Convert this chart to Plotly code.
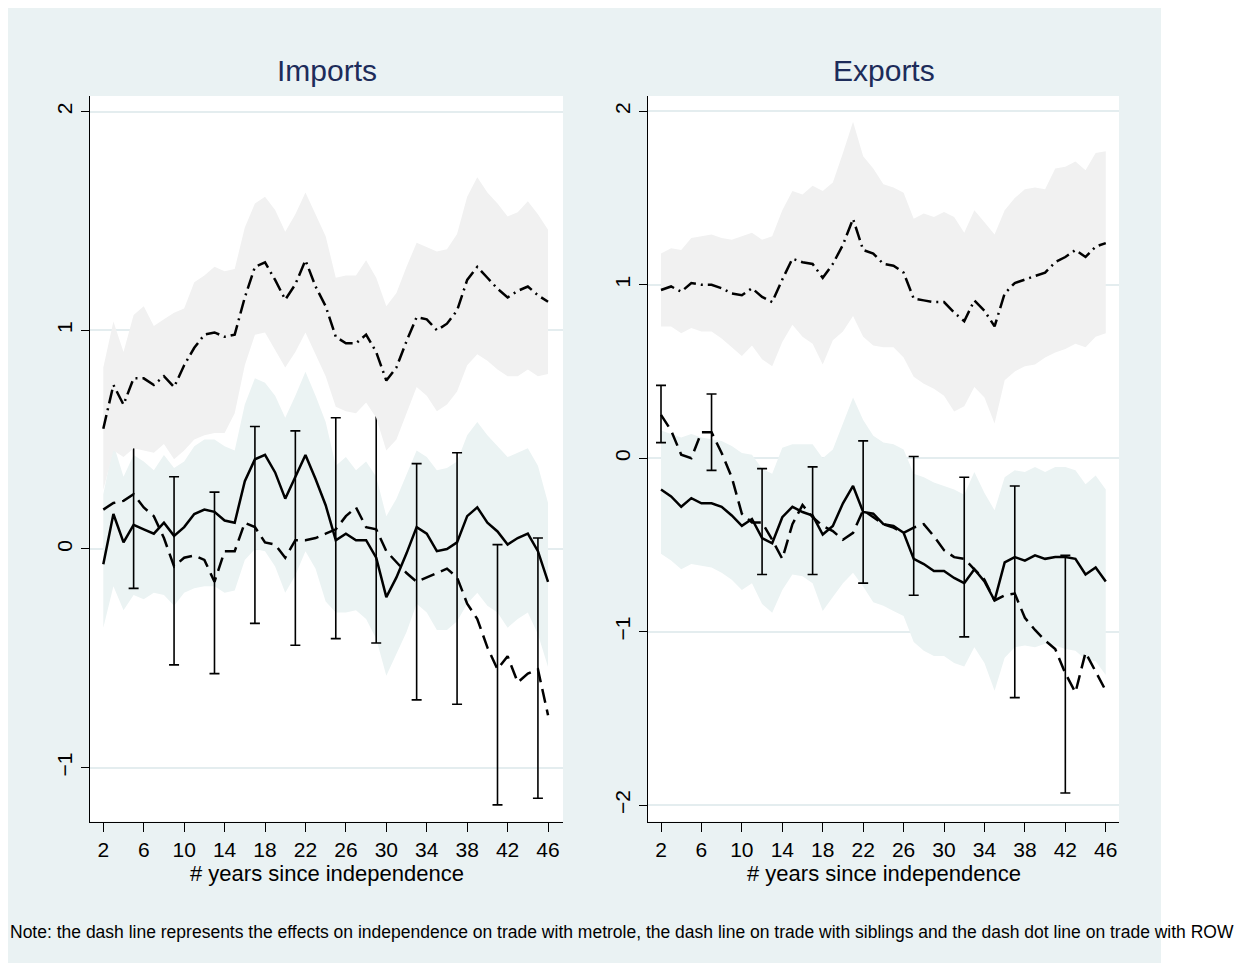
import plotly.graph_objects as go

years = list(range(2, 47))
x_ticks = [2, 6, 10, 14, 18, 22, 26, 30, 34, 38, 42, 46]

# ---------------- Imports panel ----------------
imp_row = [0.55, 0.75, 0.66, 0.78, 0.78, 0.75, 0.79, 0.74, 0.84, 0.92,
           0.98, 0.99, 0.97, 0.98, 1.15, 1.29, 1.31, 1.23, 1.14, 1.21,
           1.32, 1.20, 1.11, 0.97, 0.94, 0.94, 0.98, 0.90, 0.77, 0.83,
           0.95, 1.06, 1.05, 1.00, 1.03, 1.09, 1.23, 1.29, 1.24, 1.19,
           1.15, 1.18, 1.20, 1.16, 1.13]
imp_row_hi = [0.83, 1.04, 0.90, 1.07, 1.11, 1.02, 1.05, 1.08, 1.10, 1.22,
              1.25, 1.29, 1.27, 1.28, 1.47, 1.58, 1.61, 1.55, 1.45, 1.53,
              1.63, 1.53, 1.43, 1.24, 1.25, 1.25, 1.32, 1.24, 1.11, 1.17,
              1.29, 1.40, 1.38, 1.36, 1.37, 1.44, 1.61, 1.70, 1.63, 1.58,
              1.52, 1.54, 1.59, 1.53, 1.46]
imp_row_lo = [0.27, 0.45, 0.42, 0.46, 0.45, 0.44, 0.48, 0.41, 0.45, 0.50,
              0.52, 0.53, 0.53, 0.62, 0.84, 0.98, 0.99, 0.91, 0.83, 0.90,
              0.99, 0.89, 0.79, 0.65, 0.63, 0.62, 0.67, 0.60, 0.45, 0.50,
              0.62, 0.74, 0.70, 0.63, 0.66, 0.72, 0.84, 0.89, 0.86, 0.82,
              0.79, 0.79, 0.82, 0.79, 0.80]
imp_metro = [-0.07, 0.16, 0.03, 0.11, 0.09, 0.07, 0.12, 0.06, 0.10, 0.16,
             0.18, 0.17, 0.13, 0.12, 0.31, 0.41, 0.43, 0.35, 0.23, 0.33,
             0.43, 0.32, 0.20, 0.04, 0.07, 0.04, 0.04, -0.04, -0.22, -0.13,
             -0.02, 0.10, 0.07, -0.01, 0.00, 0.03, 0.15, 0.19, 0.12, 0.08,
             0.02, 0.05, 0.07, -0.01, -0.15]
imp_metro_hi = [0.25, 0.48, 0.33, 0.43, 0.40, 0.36, 0.43, 0.37, 0.40, 0.47,
                0.50, 0.50, 0.47, 0.45, 0.66, 0.78, 0.76, 0.70, 0.60, 0.70,
                0.81, 0.70, 0.58, 0.38, 0.42, 0.36, 0.40, 0.33, 0.15, 0.23,
                0.34, 0.45, 0.42, 0.36, 0.37, 0.40, 0.52, 0.58, 0.52, 0.47,
                0.42, 0.44, 0.46, 0.38, 0.21]
imp_metro_lo = [-0.36, -0.17, -0.28, -0.21, -0.23, -0.20, -0.21, -0.26, -0.20, -0.18,
                -0.17, -0.17, -0.20, -0.19, -0.05, 0.00, -0.01, -0.08, -0.20, -0.12,
                -0.01, -0.09, -0.24, -0.29, -0.29, -0.28, -0.32, -0.41, -0.58, -0.48,
                -0.38, -0.25, -0.29, -0.37, -0.37, -0.33, -0.25, -0.20, -0.26, -0.29,
                -0.36, -0.32, -0.29, -0.39, -0.54]
imp_sib = [0.18, 0.21, 0.22, 0.25, 0.19, 0.15, 0.05, -0.08, -0.04, -0.03,
           -0.05, -0.15, -0.01, -0.01, 0.12, 0.10, 0.03, 0.02, -0.04, 0.04,
           0.04, 0.05, 0.07, 0.09, 0.15, 0.19, 0.10, 0.09, -0.01, -0.06,
           -0.11, -0.15, -0.13, -0.11, -0.09, -0.13, -0.25, -0.32, -0.45, -0.55,
           -0.49, -0.61, -0.57, -0.55, -0.76]
imp_bar_x = [5, 9, 13, 17, 21, 25, 29, 33, 37, 41, 45]
imp_bar_hi = [0.67, 0.33, 0.26, 0.56, 0.54, 0.60, 0.66, 0.39, 0.44, 0.02, 0.05]
imp_bar_lo = [-0.18, -0.53, -0.57, -0.34, -0.44, -0.41, -0.43, -0.69, -0.71, -1.17, -1.14]

# ---------------- Exports panel ----------------
exp_row = [0.97, 0.99, 0.96, 1.01, 1.00, 1.00, 0.98, 0.95, 0.94, 0.98,
           0.93, 0.90, 1.03, 1.15, 1.13, 1.12, 1.04, 1.12, 1.23, 1.38,
           1.20, 1.18, 1.12, 1.11, 1.07, 0.92, 0.91, 0.90, 0.90, 0.84,
           0.79, 0.91, 0.85, 0.76, 0.95, 1.01, 1.03, 1.05, 1.07, 1.13,
           1.16, 1.20, 1.16, 1.22, 1.24]
exp_row_hi = [1.18, 1.21, 1.20, 1.27, 1.28, 1.29, 1.27, 1.26, 1.28, 1.30,
              1.26, 1.28, 1.43, 1.54, 1.52, 1.57, 1.54, 1.59, 1.76, 1.94,
              1.74, 1.67, 1.58, 1.56, 1.53, 1.38, 1.41, 1.39, 1.42, 1.39,
              1.30, 1.43, 1.36, 1.29, 1.43, 1.50, 1.55, 1.56, 1.55, 1.67,
              1.68, 1.71, 1.66, 1.76, 1.77]
exp_row_lo = [0.76, 0.76, 0.72, 0.75, 0.73, 0.73, 0.69, 0.64, 0.59, 0.65,
              0.57, 0.53, 0.67, 0.77, 0.70, 0.66, 0.54, 0.68, 0.73, 0.82,
              0.70, 0.65, 0.64, 0.64, 0.58, 0.47, 0.43, 0.40, 0.36, 0.27,
              0.30, 0.41, 0.35, 0.20, 0.45, 0.50, 0.53, 0.54, 0.58, 0.61,
              0.63, 0.66, 0.64, 0.70, 0.72]
exp_metro = [-0.18, -0.22, -0.28, -0.23, -0.26, -0.26, -0.28, -0.33, -0.39, -0.35,
             -0.46, -0.49, -0.34, -0.28, -0.31, -0.33, -0.44, -0.39, -0.26, -0.16,
             -0.31, -0.32, -0.38, -0.39, -0.43, -0.58, -0.61, -0.65, -0.65, -0.69,
             -0.72, -0.64, -0.71, -0.82, -0.60, -0.57, -0.59, -0.56, -0.58, -0.57,
             -0.57, -0.58, -0.67, -0.63, -0.71]
exp_metro_hi = [0.16, 0.14, 0.12, 0.14, 0.12, 0.11, 0.10, 0.07, 0.03, 0.02,
                -0.06, -0.09, 0.06, 0.08, 0.08, 0.08, 0.00, 0.05, 0.20, 0.35,
                0.22, 0.13, 0.09, 0.08, 0.05, -0.09, -0.11, -0.14, -0.16, -0.18,
                -0.21, -0.08, -0.20, -0.30, -0.11, -0.07, -0.08, -0.05, -0.08, -0.05,
                -0.05, -0.07, -0.15, -0.10, -0.18]
exp_metro_lo = [-0.55, -0.59, -0.64, -0.61, -0.62, -0.63, -0.66, -0.70, -0.76, -0.72,
                -0.84, -0.89, -0.76, -0.67, -0.68, -0.72, -0.88, -0.80, -0.72, -0.66,
                -0.74, -0.83, -0.85, -0.88, -0.91, -1.06, -1.11, -1.14, -1.14, -1.18,
                -1.20, -1.09, -1.18, -1.34, -1.15, -1.09, -1.08, -1.09, -1.07, -1.08,
                -1.10, -1.11, -1.16, -1.17, -1.25]
exp_sib = [0.25, 0.16, 0.02, 0.00, 0.15, 0.15, 0.03, -0.11, -0.32, -0.37,
           -0.37, -0.47, -0.58, -0.38, -0.27, -0.34, -0.39, -0.42, -0.47, -0.43,
           -0.30, -0.34, -0.38, -0.40, -0.43, -0.40, -0.38, -0.45, -0.53, -0.57,
           -0.58, -0.64, -0.70, -0.82, -0.79, -0.78, -0.92, -0.99, -1.05, -1.10,
           -1.24, -1.35, -1.12, -1.23, -1.34]
exp_bar_x = [2, 7, 12, 17, 22, 27, 32, 37, 42]
exp_bar_hi = [0.42, 0.37, -0.06, -0.05, 0.10, 0.01, -0.11, -0.16, -0.56]
exp_bar_lo = [0.09, -0.07, -0.67, -0.67, -0.72, -0.79, -1.03, -1.38, -1.93]

panel_titles = ["Imports", "Exports"]
x_title = "# years since independence"
note = ("Note: the dash line represents the effects on independence on trade with metrole, "
        "the dash line on trade with siblings and the dash dot line on trade with ROW")

# ---------------- styles ----------------
BG = "#EAF2F3"
GRID = "#E4EDEF"
BAND_METRO = "#EBF3F3"
BAND_ROW = "#F1F1F1"
TITLE_COLOR = "#1D2C5A"
FONT = "Liberation Sans, Arial, sans-serif"
LW = 2.5

# page body has an 8px margin; figure placed at (8, 8)
W, H = 1246, 955
BG_RIGHT = 1153
fig = go.Figure()


def band(xs, hi, lo, color, xa, ya):
    return go.Scatter(x=xs + xs[::-1], y=hi + lo[::-1], fill="toself",
                      fillcolor=color, line=dict(width=0), mode="lines",
                      hoverinfo="skip", showlegend=False, xaxis=xa, yaxis=ya)


def add_panel(xa, ya, row, row_hi, row_lo, metro, m_hi, m_lo, sib, bx, bhi, blo):
    fig.add_trace(band(years, m_hi, m_lo, BAND_METRO, xa, ya))
    fig.add_trace(go.Scatter(x=years, y=metro, mode="lines",
                             line=dict(color="black", width=LW),
                             showlegend=False, xaxis=xa, yaxis=ya))
    fig.add_trace(go.Scatter(x=years, y=sib, mode="lines",
                             line=dict(color="black", width=LW, dash="14px,7px"),
                             showlegend=False, xaxis=xa, yaxis=ya))
    mid = [(h + l) / 2 for h, l in zip(bhi, blo)]
    half = [(h - l) / 2 for h, l in zip(bhi, blo)]
    fig.add_trace(go.Scatter(x=bx, y=mid, mode="markers",
                             marker=dict(size=1, color="rgba(0,0,0,0)"),
                             error_y=dict(type="data", symmetric=True, array=half,
                                          color="black", thickness=1.6, width=5),
                             showlegend=False, xaxis=xa, yaxis=ya))
    fig.add_trace(band(years, row_hi, row_lo, BAND_ROW, xa, ya))
    fig.add_trace(go.Scatter(x=years, y=row, mode="lines",
                             line=dict(color="black", width=LW, dash="14px,5px,2px,5px"),
                             showlegend=False, xaxis=xa, yaxis=ya))


add_panel("x", "y", imp_row, imp_row_hi, imp_row_lo, imp_metro, imp_metro_hi,
          imp_metro_lo, imp_sib, imp_bar_x, imp_bar_hi, imp_bar_lo)
add_panel("x2", "y2", exp_row, exp_row_hi, exp_row_lo, exp_metro, exp_metro_hi,
          exp_metro_lo, exp_sib, exp_bar_x, exp_bar_hi, exp_bar_lo)

y_dom = [(H - 813.5) / H, (H - 88) / H]
left_dom = [82 / W, 555 / W]
right_dom = [640 / W, 1111 / W]

xcommon = dict(tickvals=x_ticks, ticks="outside", ticklen=9, tickwidth=1.4,
               tickcolor="black", showline=True, linecolor="black", linewidth=1.4,
               showgrid=False, zeroline=False,
               tickfont=dict(family=FONT, size=21, color="black"))
ycommon = dict(ticks="outside", ticklen=8, tickwidth=1.4, tickcolor="black",
               showline=True, linecolor="black", linewidth=1.4,
               showgrid=True, gridcolor=GRID, gridwidth=2, zeroline=False,
               tickangle=-90, tickfont=dict(family=FONT, size=21, color="black"))

fig.update_layout(
    width=W, height=H,
    margin=dict(l=0, r=0, t=0, b=0),
    paper_bgcolor=BG, plot_bgcolor="white",
    showlegend=False,
    xaxis=dict(domain=left_dom, range=[0.684, 47.48], anchor="y", **xcommon),
    yaxis=dict(domain=y_dom, range=[-1.246, 2.071], anchor="x",
               tickvals=[-1, 0, 1, 2], **ycommon),
    xaxis2=dict(domain=right_dom, range=[0.714, 47.31], anchor="y2", **xcommon),
    yaxis2=dict(domain=y_dom, range=[-2.094, 2.088], anchor="x2",
                tickvals=[-2, -1, 0, 1, 2], **ycommon),
)

# white page to the right of the grey-blue graph region
fig.add_shape(type="rect", xref="paper", yref="paper", x0=BG_RIGHT / W, x1=1, y0=0, y1=1,
              fillcolor="white", line=dict(width=0), layer="above")

for dom, t in zip([left_dom, right_dom], panel_titles):
    cx = (dom[0] + dom[1]) / 2
    fig.add_annotation(text=t, x=cx, y=(H - 62) / H, xref="paper", yref="paper",
                       xanchor="center", yanchor="middle", showarrow=False,
                       font=dict(family=FONT, size=30, color=TITLE_COLOR))
    fig.add_annotation(text=x_title, x=cx, y=(H - 865) / H, xref="paper", yref="paper",
                       xanchor="center", yanchor="middle", showarrow=False,
                       font=dict(family=FONT, size=22, color="black"))

fig.add_annotation(text=note, x=0, y=(H - 924) / H, xref="paper", yref="paper",
                   xanchor="left", yanchor="middle", showarrow=False,
                   font=dict(family=FONT, size=17.5, color="black"))

fig.write_html("out.html")
